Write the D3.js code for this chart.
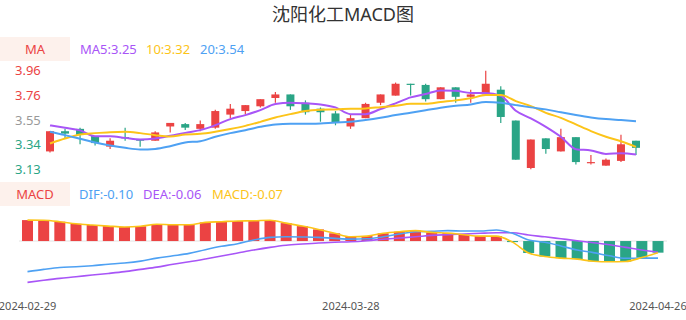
<!DOCTYPE html>
<html>
<head>
<meta charset="utf-8">
<script src="https://cdn.jsdelivr.net/npm/d3@7"></script>
<style>
    html, body { margin: 0; padding: 0; background: #fff; }
    svg { display: block; font-family: "Noto Sans", "Noto Sans CJK SC", sans-serif; }
</style>
</head>
<body>
<div id="chart"></div>
<script>
const dates = ["2024-02-29","2024-03-01","2024-03-04","2024-03-05","2024-03-06","2024-03-07","2024-03-08",
    "2024-03-11","2024-03-12","2024-03-13","2024-03-14","2024-03-15","2024-03-18","2024-03-19","2024-03-20",
    "2024-03-21","2024-03-22","2024-03-25","2024-03-26","2024-03-27","2024-03-28","2024-03-29","2024-04-01",
    "2024-04-02","2024-04-03","2024-04-08","2024-04-09","2024-04-10","2024-04-11","2024-04-12","2024-04-15",
    "2024-04-16","2024-04-17","2024-04-18","2024-04-19","2024-04-22","2024-04-23","2024-04-24","2024-04-25","2024-04-26"];

const opens  = [3.28,3.45,3.47,3.41,3.32,3.40,3.38,3.37,3.49,3.51,3.47,3.48,3.59,3.62,3.66,3.73,3.76,3.69,3.64,3.60,
                3.49,3.56,3.69,3.75,3.85,3.84,3.72,3.82,3.74,3.76,3.80,3.54,3.14,3.39,3.28,3.40,3.18,3.16,3.20,3.37];
const closes = [3.45,3.43,3.42,3.35,3.37,3.39,3.37,3.44,3.52,3.48,3.51,3.62,3.64,3.67,3.72,3.76,3.66,3.61,3.61,3.52,
                3.56,3.68,3.76,3.85,3.84,3.72,3.82,3.74,3.76,3.85,3.57,3.21,3.38,3.30,3.40,3.19,3.19,3.21,3.34,3.31];
const highs  = [3.45,3.47,3.48,3.41,3.39,3.48,3.38,3.45,3.52,3.52,3.54,3.63,3.68,3.67,3.72,3.78,3.76,3.71,3.65,3.62,
                3.59,3.69,3.76,3.86,3.85,3.85,3.82,3.82,3.80,3.96,3.83,3.54,3.38,3.39,3.47,3.40,3.25,3.22,3.42,3.37];
const lows   = [3.27,3.39,3.34,3.33,3.30,3.37,3.32,3.37,3.44,3.46,3.45,3.47,3.56,3.59,3.65,3.69,3.63,3.59,3.53,3.50,
                3.47,3.56,3.67,3.75,3.75,3.70,3.72,3.69,3.69,3.76,3.52,3.21,3.13,3.26,3.28,3.17,3.17,3.16,3.19,3.25];

const ma5  = [3.499,3.479,3.457,3.408,3.408,3.394,3.381,3.389,3.411,3.436,3.459,3.501,3.552,3.586,3.628,3.679,3.690,3.685,3.676,3.651,
              3.594,3.594,3.637,3.685,3.735,3.763,3.794,3.791,3.772,3.772,3.749,3.622,3.558,3.487,3.403,3.299,3.288,3.259,3.265,3.254];
const ma10 = [3.347,3.389,3.423,3.434,3.442,3.445,3.434,3.417,3.406,3.423,3.428,3.445,3.468,3.495,3.529,3.566,3.594,3.620,3.631,3.634,
              3.639,3.642,3.653,3.664,3.681,3.681,3.696,3.710,3.727,3.755,3.755,3.704,3.662,3.605,3.563,3.507,3.451,3.403,3.366,3.318];
const ma20 = [3.445,3.417,3.386,3.355,3.330,3.310,3.296,3.301,3.324,3.355,3.366,3.403,3.434,3.459,3.487,3.507,3.512,3.512,3.516,3.524,
              3.529,3.544,3.563,3.586,3.605,3.626,3.648,3.664,3.676,3.696,3.690,3.670,3.651,3.634,3.609,3.586,3.566,3.552,3.544,3.535];

const dif  = [-0.174,-0.161,-0.150,-0.146,-0.140,-0.132,-0.125,-0.114,-0.097,-0.084,-0.070,-0.049,-0.030,-0.015,0.006,0.021,0.024,0.023,0.021,0.015,
              0.011,0.013,0.024,0.040,0.053,0.055,0.059,0.057,0.057,0.063,0.044,0.006,-0.007,-0.028,-0.051,-0.066,-0.084,-0.098,-0.097,-0.097];
const dea  = [-0.235,-0.223,-0.212,-0.203,-0.193,-0.184,-0.174,-0.161,-0.148,-0.132,-0.118,-0.102,-0.085,-0.068,-0.051,-0.036,-0.024,-0.017,-0.011,-0.007,
              -0.004,0.002,0.010,0.017,0.024,0.032,0.036,0.040,0.044,0.047,0.047,0.034,0.024,0.013,0.002,-0.010,-0.021,-0.036,-0.051,-0.064];
const macd = [0.119,0.118,0.110,0.098,0.091,0.085,0.080,0.084,0.095,0.093,0.093,0.106,0.110,0.114,0.115,0.118,0.102,0.085,0.066,0.044,
              0.024,0.028,0.044,0.053,0.059,0.049,0.045,0.036,0.028,0.028,-0.006,-0.068,-0.088,-0.097,-0.103,-0.115,-0.118,-0.116,-0.094,-0.066];

const priceTickLabels = ["3.96","3.76","3.55","3.34","3.13"];
const maLegend = [["MA5:3.25", "#a855f7", 80], ["10:3.32", "#fcc419", 146], ["20:3.54", "#4ea1f3", 200]];
const macdLegend = [["DIF:-0.10", "#4ea1f3", 79], ["DEA:-0.06", "#a855f7", 143], ["MACD:-0.07", "#fcc419", 212]];
const dateLabelIdx = [0, 20, 39];

const width = 686, height = 320;
const red = "#eb4343", green = "#2aa586";

const svg = d3.select("#chart").append("svg")
    .attr("width", width)
    .attr("height", height)
    .attr("viewBox", [0, 0, width, height]);

svg.append("text")
    .attr("x", width / 2)
    .attr("y", 21)
    .attr("text-anchor", "middle")
    .attr("font-size", 18)
    .attr("fill", "#333")
    .text("沈阳化工MACD图");

// legend boxes
function legendBox(y, label, items) {
    svg.append("rect").attr("x", 0).attr("y", y).attr("width", 70).attr("height", 24).attr("fill", "#fdf1ec");
    svg.append("text").attr("x", 35).attr("y", y + 12).attr("dy", "0.35em")
        .attr("text-anchor", "middle").attr("font-size", 13).attr("fill", red).text(label);
    items.forEach(([t, c, x]) => {
        svg.append("text").attr("x", x).attr("y", y + 12).attr("dy", "0.35em")
            .attr("font-size", 13).attr("fill", c).text(t);
    });
}
legendBox(37, "MA", maLegend);
legendBox(182, "MACD", macdLegend);

// candlestick panel
const x = d3.scalePoint().domain(dates).range([50, 636]);
const yMin = d3.min(lows), yMax = d3.max(highs);
const y = d3.scaleLinear().domain([yMin, yMax]).range([169.2, 70.7]);

priceTickLabels.forEach((t, i) => {
    const v = yMax - i * (yMax - yMin) / (priceTickLabels.length - 1);
    const mid = (priceTickLabels.length - 1) / 2;
    svg.append("text")
        .attr("x", 15)
        .attr("y", y(v))
        .attr("dy", "0.35em")
        .attr("font-size", 13)
        .attr("fill", i < mid ? red : i > mid ? green : "#999")
        .text(t);
});

const candles = dates.map((d, i) => ({ d, o: opens[i], c: closes[i], h: highs[i], l: lows[i] }));
const cg = svg.append("g").selectAll("g").data(candles).join("g");
cg.append("line")
    .attr("x1", d => x(d.d)).attr("x2", d => x(d.d))
    .attr("y1", d => y(d.h)).attr("y2", d => y(d.l))
    .attr("stroke", d => d.c >= d.o ? red : green)
    .attr("stroke-width", 1.2);
cg.append("rect")
    .attr("x", d => x(d.d) - 4)
    .attr("width", 8)
    .attr("y", d => y(Math.max(d.o, d.c)))
    .attr("height", d => Math.max(1, Math.abs(y(d.o) - y(d.c))))
    .attr("fill", d => d.c >= d.o ? red : green);

const maLine = d3.line().x((d, i) => x(dates[i])).y(d => y(d)).curve(d3.curveMonotoneX);
[[ma5, "#a855f7"], [ma10, "#fcc419"], [ma20, "#4ea1f3"]].forEach(([s, c]) => {
    svg.append("path").attr("d", maLine(s)).attr("fill", "none")
        .attr("stroke", c).attr("stroke-width", 2);
});

// MACD panel
const xm = d3.scalePoint().domain(dates).range([27.5, 658]);
const ext = d3.extent([...dif, ...dea, ...macd]);
const ym = d3.scaleLinear().domain(ext).range([282.4, 220.1]);

svg.append("line")
    .attr("x1", 19).attr("x2", 667)
    .attr("y1", ym(0)).attr("y2", ym(0))
    .attr("stroke", "#e3e3e3").attr("stroke-width", 1);

svg.append("g").selectAll("rect").data(macd).join("rect")
    .attr("x", (d, i) => xm(dates[i]) - 5.5)
    .attr("width", 11)
    .attr("y", d => ym(Math.max(0, d)))
    .attr("height", d => Math.abs(ym(d) - ym(0)))
    .attr("fill", d => d >= 0 ? red : green);

const mLine = d3.line().x((d, i) => xm(dates[i])).y(d => ym(d)).curve(d3.curveMonotoneX);
[[dea, "#a855f7"], [dif, "#4ea1f3"], [macd, "#fcc419"]].forEach(([s, c]) => {
    svg.append("path").attr("d", mLine(s)).attr("fill", "none")
        .attr("stroke", c).attr("stroke-width", 1.6);
});

dateLabelIdx.forEach(i => {
    svg.append("text")
        .attr("x", xm(dates[i]))
        .attr("y", 306)
        .attr("dy", "0.35em")
        .attr("text-anchor", "middle")
        .attr("font-size", 11)
        .attr("fill", "#555")
        .text(dates[i]);
});
</script>
</body>
</html>
